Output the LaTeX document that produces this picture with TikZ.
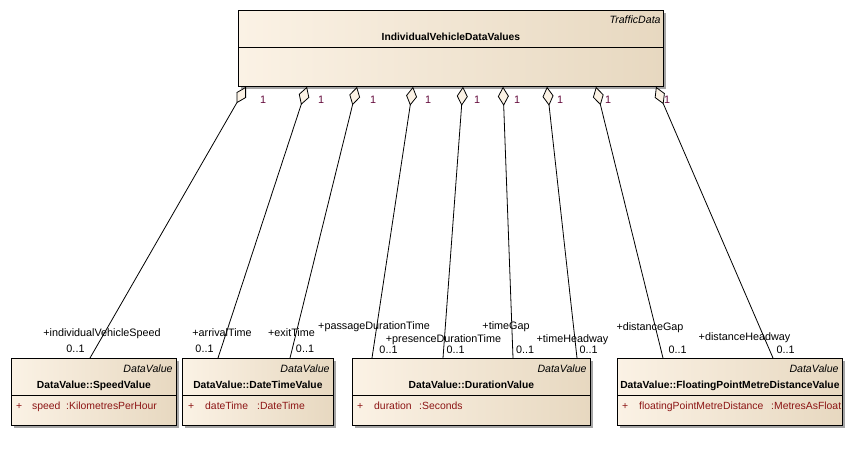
\documentclass[tikz,border=0pt]{standalone}
\usepackage{fontspec}
\setmainfont{Liberation Sans}
\usetikzlibrary{arrows.meta,shadows}

\definecolor{boxlight}{RGB}{251,242,229}
\definecolor{boxdark}{RGB}{231,216,192}
\definecolor{shadowgray}{RGB}{165,165,165}
\definecolor{attrred}{RGB}{140,20,20}
\definecolor{multred}{RGB}{100,10,60}

\tikzset{
  txt/.style={font=\fontsize{10.8}{12}\selectfont, inner sep=0pt, anchor=base},
  stereo/.style={txt, font=\fontsize{10.6}{12}\selectfont\itshape, anchor=base east},
  cname/.style={txt, font=\fontsize{10.3}{12}\selectfont\bfseries},
  attr/.style={txt, font=\fontsize{10.4}{12}\selectfont, text=attrred, anchor=base west},
  role/.style={txt},
  mult/.style={txt},
  endmult/.style={txt, text=multred},
  umlclass/.style={draw=black, line width=0.8pt, anchor=north west, inner sep=0pt,
    left color=boxlight, right color=boxdark,
    drop shadow={shadow xshift=3pt, shadow yshift=-3pt, fill=shadowgray, opacity=1}},
  divider/.style={line width=0.8pt},
  assoc/.style={line width=0.8pt,
    -{Diamond[length=19pt, width=11pt, fill=boxlight, line width=0.8pt]}}
}

\begin{document}
\begin{tikzpicture}[x=1pt, y=-1pt]
  \useasboundingbox (0,0) rectangle (853,456);

  % aggregating class
  \node[umlclass, minimum width=425pt, minimum height=76pt] (tb) at (238,10) {};
  \draw[divider] ([yshift=-37pt]tb.north west) -- ([yshift=-37pt]tb.north east);
  \node[stereo] (tbst) at ([xshift=-3pt, yshift=-13pt]tb.north east) {TrafficData};
  \node[cname] (tbname) at ([yshift=-30pt]tb.north) {IndividualVehicleDataValues};

  % data value classes
  \node[umlclass, minimum width=165pt, minimum height=67pt] (sv) at (11,358) {};
  \node[umlclass, minimum width=151pt, minimum height=67pt] (dt) at (182,358) {};
  \node[umlclass, minimum width=238pt, minimum height=67pt] (dv) at (352,358) {};
  \node[umlclass, minimum width=225pt, minimum height=67pt] (fv) at (617,358) {};

  \foreach \b in {sv,dt,dv,fv}{
    \draw[divider] ([yshift=-37pt]\b.north west) -- ([yshift=-37pt]\b.north east);
    \node[stereo] (\b st) at ([xshift=-4pt, yshift=-14pt]\b.north east) {DataValue};
  }

  \node[cname] (svname) at ([yshift=-30.5pt]sv.north) {DataValue::SpeedValue};
  \node[cname] (dtname) at ([yshift=-30.5pt]dt.north) {DataValue::DateTimeValue};
  \node[cname] (dvname) at ([yshift=-30.5pt]dv.north) {DataValue::DurationValue};
  \node[cname] (fvname) at ([yshift=-30.5pt]fv.north) {DataValue::FloatingPointMetreDistanceValue};

  % attributes
  \node[attr] (svvis) at (16,409) {+};
  \node[attr] (svatt) at (32,409) {speed};
  \node[attr] (svtyp) at (66,409) {:KilometresPerHour};
  \node[attr] (dtvis) at (188,409) {+};
  \node[attr] (dtatt) at (205,409) {dateTime};
  \node[attr] (dttyp) at (257,409) {:DateTime};
  \node[attr] (dvvis) at (357,409) {+};
  \node[attr] (dvatt) at (374,409) {duration};
  \node[attr] (dvtyp) at (419,409) {:Seconds};
  \node[attr] (fvvis) at (622,409) {+};
  \node[attr] (fvatt) at (639,409) {floatingPointMetreDistance};
  \node[attr] (fvtyp) at (771,409) {:MetresAsFloat};

  % association ends on the aggregating class
  \coordinate (t1) at ([xshift=8pt]tb.south west);
  \coordinate (t2) at ([xshift=69pt]tb.south west);
  \coordinate (t3) at ([xshift=119pt]tb.south west);
  \coordinate (t4) at ([xshift=175pt]tb.south west);
  \coordinate (t5) at ([xshift=225pt]tb.south west);
  \coordinate (t6) at ([xshift=265pt]tb.south west);
  \coordinate (t7) at ([xshift=309pt]tb.south west);
  \coordinate (t8) at ([xshift=358pt]tb.south west);
  \coordinate (t9) at ([xshift=418pt]tb.south west);

  % association ends on the data value classes
  \coordinate (b1) at ([xshift=79pt]sv.north west);
  \coordinate (b2) at ([xshift=36pt]dt.north west);
  \coordinate (b3) at ([xshift=108pt]dt.north west);
  \coordinate (b4) at ([xshift=20pt]dv.north west);
  \coordinate (b5) at ([xshift=91pt]dv.north west);
  \coordinate (b6) at ([xshift=161pt]dv.north west);
  \coordinate (b7) at ([xshift=225pt]dv.north west);
  \coordinate (b8) at ([xshift=46pt]fv.north west);
  \coordinate (b9) at ([xshift=156pt]fv.north west);

  \foreach \i in {1,...,9}{
    \draw[assoc] (b\i) -- (t\i);
  }

  % multiplicities at the aggregate end
  \foreach \i/\x in {1/263,2/321,3/373,4/428,5/477,6/517,7/560,8/608,9/667}{
    \node[endmult] (m\i) at (\x,103) {1};
  }

  % role names and multiplicities at the part end
  \node[role] (r1) at (102,336) {+individualVehicleSpeed};
  \node[mult] (n1) at (75.5,352) {0..1};
  \node[role] (r2) at (222,336) {+arrivalTime};
  \node[mult] (n2) at (204.5,352) {0..1};
  \node[role] (r3) at (291.5,336) {+exitTime};
  \node[mult] (n3) at (305,352) {0..1};
  \node[role, anchor=base east] (r4) at (430,329) {+passageDurationTime};
  \node[mult] (n4) at (388.5,353) {0..1};
  \node[role] (r5) at (443.5,342) {+presenceDurationTime};
  \node[mult] (n5) at (455.5,353) {0..1};
  \node[role] (r6) at (506,329) {+timeGap};
  \node[mult] (n6) at (525,353) {0..1};
  \node[role] (r7) at (572.5,342) {+timeHeadway};
  \node[mult] (n7) at (588.5,353) {0..1};
  \node[role] (r8) at (650,330) {+distanceGap};
  \node[mult] (n8) at (677.5,353) {0..1};
  \node[role] (r9) at (744.5,340) {+distanceHeadway};
  \node[mult] (n9) at (785.5,353) {0..1};
\end{tikzpicture}
\end{document}
